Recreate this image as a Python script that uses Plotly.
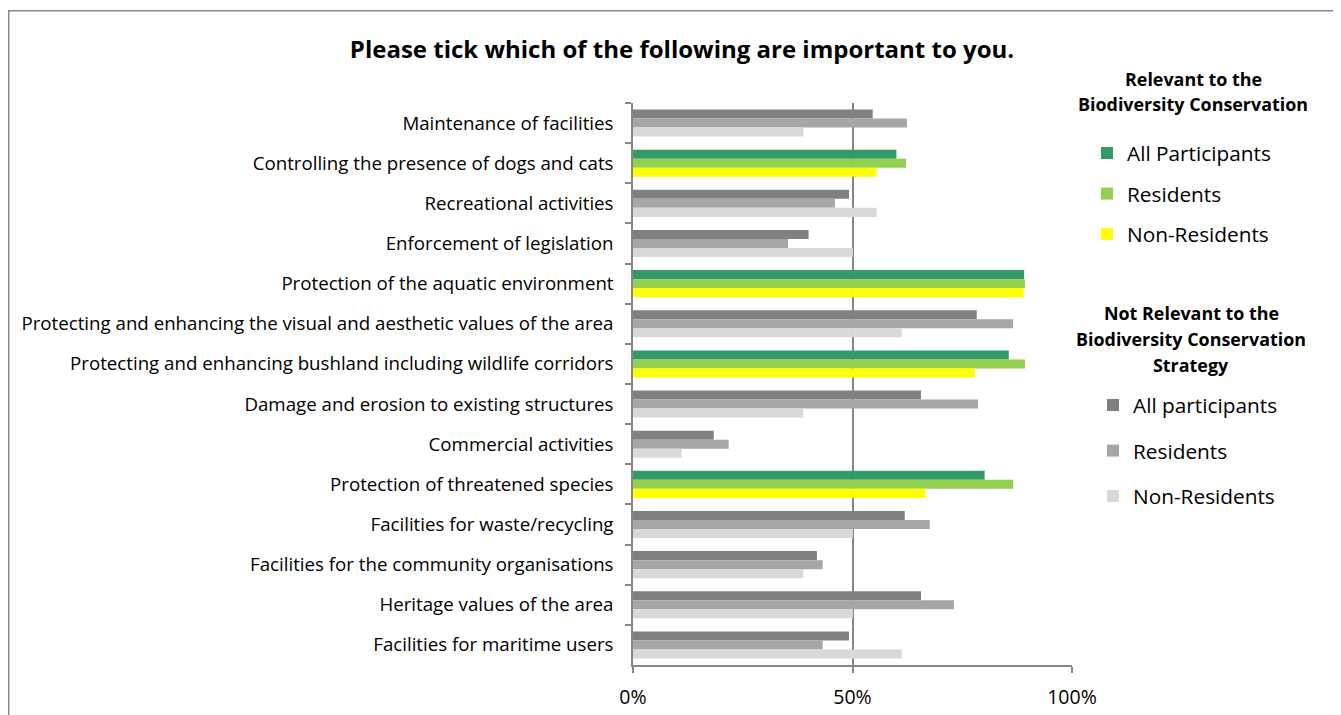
import plotly.graph_objects as go

categories = [
    "Maintenance of facilities",
    "Controlling the presence of dogs and cats",
    "Recreational activities",
    "Enforcement of legislation",
    "Protection of the aquatic environment",
    "Protecting and enhancing the visual and aesthetic values of the area",
    "Protecting and enhancing bushland including wildlife corridors",
    "Damage and erosion to existing structures",
    "Commercial activities",
    "Protection of threatened species",
    "Facilities for waste/recycling",
    "Facilities for the community organisations",
    "Heritage values of the area",
    "Facilities for maritime users",
]
relevant = [False, True, False, False, True, False, True, False, False, True, False, False, False, False]
all_participants = [0.546, 0.600, 0.492, 0.400, 0.891, 0.783, 0.856, 0.656, 0.184, 0.801, 0.619, 0.419, 0.656, 0.492]
residents = [0.624, 0.622, 0.460, 0.353, 0.893, 0.866, 0.893, 0.786, 0.218, 0.866, 0.676, 0.432, 0.731, 0.432]
non_residents = [0.388, 0.555, 0.555, 0.501, 0.890, 0.612, 0.779, 0.388, 0.111, 0.666, 0.501, 0.388, 0.501, 0.612]

tick_vals = [0, 0.5, 1.0]
tick_text = ["0%", "50%", "100%"]

title_text = "Please tick which of the following are important to you."
legend1_title = ["Relevant to the", "Biodiversity Conservation"]
legend2_title = ["Not Relevant to the", "Biodiversity Conservation", "Strategy"]

FONT = "'Open Sans', sans-serif"

series = [
    ("All Participants", "All participants", all_participants, "#339966", "#808080", "a"),
    ("Residents", "Residents", residents, "#92D050", "#A6A6A6", "b"),
    ("Non-Residents", "Non-Residents", non_residents, "#FFFF00", "#D9D9D9", "c"),
]

fig = go.Figure()
for i, (rname, nname, vals, rcol, ncol, og) in enumerate(series):
    rv = [v if r else None for v, r in zip(vals, relevant)]
    nv = [None if r else v for v, r in zip(vals, relevant)]
    fig.add_trace(go.Bar(
        y=categories, x=rv, orientation="h", name=rname, marker_color=rcol,
        offsetgroup=og, legend="legend", legendgroup="r" + og, legendrank=i + 1,
        marker_line_width=0,
    ))
    fig.add_trace(go.Bar(
        y=categories, x=nv, orientation="h", name=nname, marker_color=ncol,
        offsetgroup=og, legend="legend2", legendgroup="n" + og, legendrank=i + 1,
        marker_line_width=0,
    ))

# page body has an 8px margin: figure pixel = screen pixel - 8
OFF = 8
W, H = 1341 - OFF, 715 - OFF
L, R, T, B = 633 - OFF, 1072 - OFF, 103 - OFF, 665 - OFF
pw, ph = R - L, B - T


def px(x):  # screen x -> paper
    return (x - OFF - L) / pw


def py(y):  # screen y -> paper
    return (B - (y - OFF)) / ph


annotations = []
for k, line in enumerate(legend1_title):
    annotations.append(dict(
        text="<b>%s</b>" % line, x=px(1193), y=py(79 + 25.5 * k),
        xref="paper", yref="paper", xanchor="center", yanchor="middle",
        showarrow=False, font=dict(size=17.9, family=FONT, color="#000000"),
    ))
for k, line in enumerate(legend2_title):
    annotations.append(dict(
        text="<b>%s</b>" % line, x=px(1191), y=py(313 + 26 * k),
        xref="paper", yref="paper", xanchor="center", yanchor="middle",
        showarrow=False, font=dict(size=17.9, family=FONT, color="#000000"),
    ))

fig.update_layout(
    width=W, height=H,
    margin=dict(l=L, r=W - R, t=T, b=H - B, pad=0, autoexpand=False),
    paper_bgcolor="white", plot_bgcolor="white",
    barmode="group", bargap=0.325, bargroupgap=0,
    font=dict(family=FONT, color="#000000", size=18.7),
    title=dict(
        text="<b>%s</b>" % title_text,
        x=(682 - OFF) / W, xref="container", xanchor="center",
        y=1 - (50 - OFF) / H, yref="container", yanchor="middle",
        font=dict(size=24, family=FONT, color="#000000"),
    ),
    xaxis=dict(
        range=[0, 1], tickvals=tick_vals, ticktext=tick_text,
        showgrid=True, gridcolor="#868686", gridwidth=1.5,
        showline=True, linecolor="#868686", linewidth=1.5,
        ticks="outside", ticklen=6, tickcolor="#868686", tickwidth=1.5,
        zeroline=False, tickfont=dict(size=19.5), ticklabelstandoff=8,
        automargin=False, fixedrange=True,
    ),
    yaxis=dict(
        autorange="reversed",
        showline=True, linecolor="#868686", linewidth=1.5,
        ticks="outside", ticklen=6, tickcolor="#868686", tickwidth=1.5,
        tickson="boundaries", showgrid=False,
        ticklabelstandoff=14, tickfont=dict(size=18.7),
        automargin=False, fixedrange=True,
    ),
    legend=dict(
        x=px(1087), y=py(133), xanchor="left", yanchor="top",
        font=dict(size=20.8), tracegroupgap=10.5,
        bgcolor="rgba(0,0,0,0)", traceorder="grouped",
    ),
    legend2=dict(
        x=px(1093), y=py(385), xanchor="left", yanchor="top",
        font=dict(size=20.8), tracegroupgap=15.5,
        bgcolor="rgba(0,0,0,0)", traceorder="grouped",
    ),
    annotations=annotations,
    shapes=[dict(
        type="rect", xref="paper", yref="paper",
        x0=px(8.7), x1=px(1334.5), y0=py(730), y1=py(10.7),
        line=dict(color="#868686", width=1.5), fillcolor="rgba(0,0,0,0)",
        layer="below",
    )],
)

fig.write_html("out.html")
